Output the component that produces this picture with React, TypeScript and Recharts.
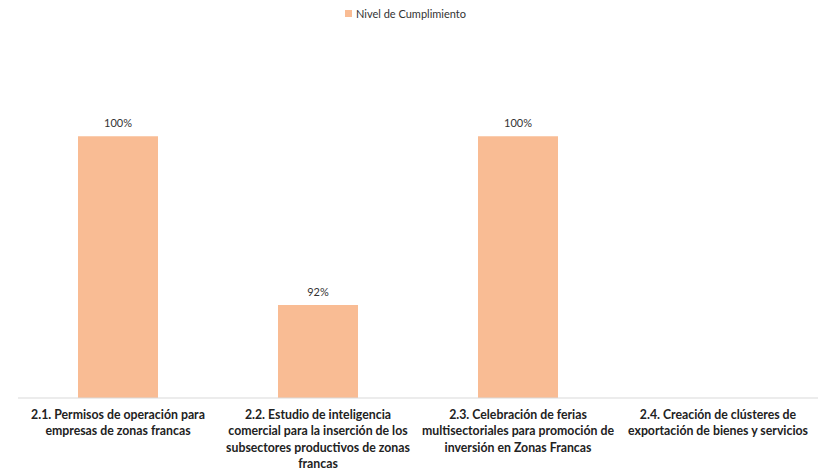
import { BarChart, Bar, XAxis, YAxis, Legend, LabelList } from 'recharts';

const categories = [
  '2.1. Permisos de operación para|empresas de zonas francas',
  '2.2. Estudio de inteligencia|comercial para la inserción de los|subsectores productivos de zonas|francas',
  '2.3. Celebración de ferias|multisectoriales para promoción de|inversión en Zonas Francas',
  '2.4. Creación de clústeres de|exportación de bienes y servicios',
];
const cumplimiento: (number | null)[] = [100, 92, 100, null];
const seriesName = 'Nivel de Cumplimiento';

const data = categories.map((c, i) => ({ name: c, value: cumplimiento[i] }));

const BAR_COLOR = '#F9BC94';
const FONT = 'Lato, Carlito, "Liberation Sans", sans-serif';

function CategoryTick(props: any) {
  const { x, y, payload } = props;
  const lines: string[] = String(payload.value).split('|');
  return (
    <text x={x} y={y + 13} textAnchor="middle" fontFamily={FONT} fontSize={12.3} fontWeight={700} fill="#222">
      {lines.map((l, i) => (
        <tspan key={i} x={x} dy={i === 0 ? 0 : 16.3}>
          {l}
        </tspan>
      ))}
    </text>
  );
}

function LegendContent() {
  return (
    <div style={{ display: 'flex', justifyContent: 'center', alignItems: 'center', fontFamily: FONT, fontSize: 11, color: '#333', marginLeft: -14 }}>
      <span style={{ width: 7, height: 7, background: BAR_COLOR, marginRight: 4, display: 'inline-block' }} />
      <span>{seriesName}</span>
    </div>
  );
}

export default function App() {
  return (
    <div style={{ position: 'absolute', left: 0, top: 0, width: 825, height: 476, background: '#fff' }}>
      <BarChart
        width={825}
        height={476}
        data={data}
        margin={{ top: 94, right: 7, bottom: 0, left: 18 }}
        barCategoryGap="30%"
      >
        <XAxis
          dataKey="name"
          height={78}
          interval={0}
          tickLine={false}
          axisLine={{ stroke: '#d9d9d9' }}
          tick={<CategoryTick />}
        />
        <YAxis hide domain={[87.6, 102]} allowDataOverflow />
        <Legend verticalAlign="middle" align="center" wrapperStyle={{ top: 7, left: 0, width: 825 }} content={<LegendContent />} />
        <Bar dataKey="value" name={seriesName} fill={BAR_COLOR} isAnimationActive={false}>
          <LabelList
            dataKey="value"
            position="top"
            offset={9}
            formatter={(v: any) => (v == null ? '' : `${v}%`)}
            style={{ fontFamily: FONT, fontSize: 11, fill: '#333' }}
          />
        </Bar>
      </BarChart>
    </div>
  );
}
